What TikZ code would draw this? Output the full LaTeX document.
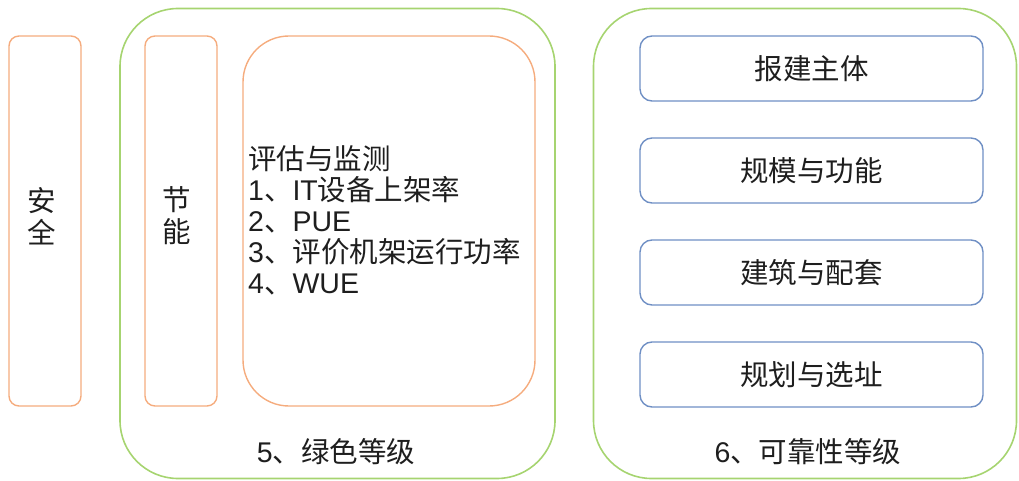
\documentclass[tikz,border=0pt]{standalone}
\usepackage{fontspec}
\setmainfont{Liberation Sans}
\newfontfamily\cjk{Noto Sans CJK SC}
\definecolor{orangeline}{HTML}{F5AC7E}
\definecolor{greenline}{HTML}{A6D470}
\definecolor{blueline}{HTML}{6F8FC4}
\definecolor{txt}{HTML}{1E1E1E}
\begin{document}
\begin{tikzpicture}[x=1pt,y=-1pt,
  obox/.style={draw=orangeline,line width=1.4pt,rounded corners=10pt,inner sep=0pt},
  gbox/.style={draw=greenline,line width=1.6pt,rounded corners=58pt,inner sep=0pt},
  bbox/.style={draw=blueline,line width=1.4pt,rounded corners=12pt,inner sep=0pt,
     minimum width=343pt,minimum height=65pt,text=txt,font=\cjk\fontsize{28.5}{32}\selectfont},
  lab/.style={text=txt,inner sep=0pt,font=\fontsize{28.5}{32}\selectfont},
  vlab/.style={text=txt,inner sep=0pt,align=center,font=\cjk\fontsize{28.5}{32}\selectfont}
]
\useasboundingbox (0,0) rectangle (1019,481);
% green containers
\node[gbox,minimum width=435pt,minimum height=470pt] (green1) at (337.5,243.5) {};
\node[gbox,minimum width=423pt,minimum height=470pt] (green2) at (805,243.5) {};
% orange boxes
\node[obox,minimum width=72pt,minimum height=370pt] (anquan) at (45,221) {};
\node[vlab] (anquanT) at (42,216) {安\\全};
\node[obox,minimum width=72pt,minimum height=370pt] (jieneng) at (181,221) {};
\node[vlab] (jienengT) at (177,216) {节\\能};
\node[obox,rounded corners=46pt,minimum width=292pt,minimum height=370pt] (pinggu) at (389,221) {};
\node[lab,anchor=north west,align=left,font=\fontsize{28.5}{31}\selectfont] (pingguT) at (248,145)
  {{\cjk 评估与监测}\\1{\cjk 、}IT{\cjk 设备上架率}\\2{\cjk 、}PUE\\3{\cjk 、评价机架运行功率}\\4{\cjk 、}WUE};
\node[lab] (g5) at (336,452) {5{\cjk 、绿色等级}};
% blue boxes
\node[bbox] (b1) at (811.5,68.5) {报建主体};
\node[bbox] (b2) at (811.5,170.5) {规模与功能};
\node[bbox] (b3) at (811.5,272.5) {建筑与配套};
\node[bbox] (b4) at (811.5,374.5) {规划与选址};
\node[lab] (g6) at (808,452) {6{\cjk 、可靠性等级}};
\end{tikzpicture}
\end{document}
